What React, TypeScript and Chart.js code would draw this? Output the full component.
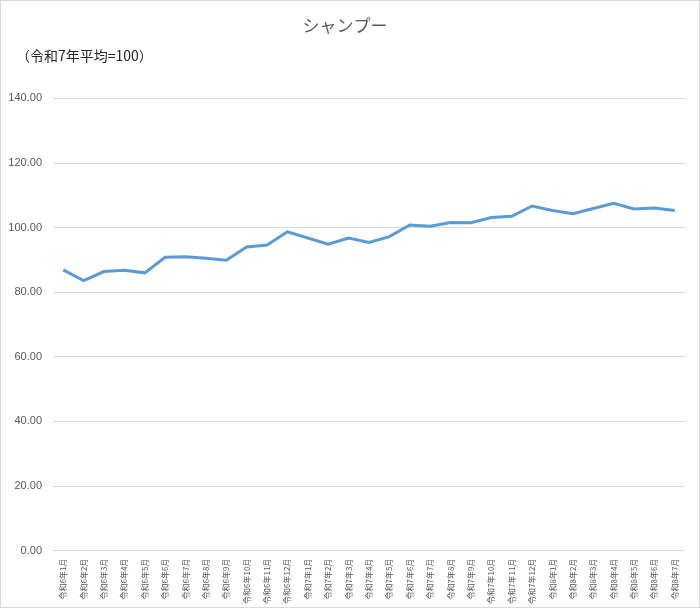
import { useEffect, useRef } from 'react';
import { Chart, registerables, Plugin } from 'chart.js';

Chart.register(...registerables);

const months: string[] = [
  '令和6年1月', '令和6年2月', '令和6年3月', '令和6年4月', '令和6年5月', '令和6年6月',
  '令和6年7月', '令和6年8月', '令和6年9月', '令和6年10月', '令和6年11月', '令和6年12月',
  '令和7年1月', '令和7年2月', '令和7年3月', '令和7年4月', '令和7年5月', '令和7年6月',
  '令和7年7月', '令和7年8月', '令和7年9月', '令和7年10月', '令和7年11月', '令和7年12月',
  '令和8年1月', '令和8年2月', '令和8年3月', '令和8年4月', '令和8年5月', '令和8年6月',
  '令和8年7月',
];

const shampooIndex: number[] = [
  86.9, 83.6, 86.4, 86.8, 86.0, 90.8, 91.0, 90.5, 89.9, 94.0, 94.6, 98.7,
  96.8, 94.9, 96.8, 95.4, 97.2, 100.8, 100.4, 101.6, 101.5, 103.1, 103.5, 106.7,
  105.3, 104.3, 105.9, 107.5, 105.8, 106.1, 105.3,
];

const chartTitle = 'シャンプー';
const unitNote = '（令和7年平均=100）';

const jpFont = '"Noto Sans CJK JP", "Noto Sans", sans-serif';

// unit note sits at the far left, outside the y axis, like the Excel original
const unitNotePlugin: Plugin<'line'> = {
  id: 'unitNote',
  afterDraw(chart) {
    const { ctx } = chart;
    ctx.save();
    ctx.font = `14px ${jpFont}`;
    ctx.fillStyle = '#262626';
    ctx.textAlign = 'left';
    ctx.textBaseline = 'middle';
    ctx.fillText(unitNote, 15, 55);
    ctx.restore();
  },
};

export default function App() {
  const canvasRef = useRef<HTMLCanvasElement>(null);

  useEffect(() => {
    document.body.style.margin = '0';
    if (!canvasRef.current) return;
    const ctx = canvasRef.current.getContext('2d');
    if (!ctx) return;

    const chart = new Chart(ctx, {
      type: 'line',
      data: {
        labels: months,
        datasets: [
          {
            label: chartTitle,
            data: shampooIndex,
            borderColor: '#5b9bd5',
            borderWidth: 3,
            pointRadius: 0,
            tension: 0,
            fill: false,
          },
        ],
      },
      plugins: [unitNotePlugin],
      options: {
        responsive: true,
        maintainAspectRatio: false,
        animation: false,
        layout: {
          padding: { left: 4, right: 14, top: 14, bottom: 3 },
        },
        plugins: {
          legend: { display: false },
          tooltip: { enabled: false },
          title: {
            display: true,
            text: chartTitle,
            color: '#595959',
            font: { family: jpFont, size: 17, weight: 'normal' },
            padding: { top: 0, bottom: 63 },
          },
        },
        scales: {
          x: {
            offset: true,
            grid: { display: false },
            border: { display: false },
            ticks: {
              color: '#595959',
              padding: 0,
              font: { family: jpFont, size: 8 },
              minRotation: 90,
              maxRotation: 90,
              autoSkip: false,
            },
          },
          y: {
            min: 0,
            max: 140,
            border: { display: false },
            grid: { color: '#d9d9d9', drawTicks: false },
            afterFit: (scale) => {
              scale.width = 48;
            },
            ticks: {
              stepSize: 20,
              color: '#595959',
              padding: 11,
              font: { family: '"Liberation Sans", sans-serif', size: 11 },
              callback: (value) => Number(value).toFixed(2),
            },
          },
        },
      },
    });

    return () => {
      chart.destroy();
    };
  }, []);

  return (
    <div
      style={{
        position: 'relative',
        width: 700,
        height: 608,
        boxSizing: 'border-box',
        border: '1px solid #d9d9d9',
        background: '#ffffff',
      }}
    >
      <canvas ref={canvasRef} />
    </div>
  );
}
